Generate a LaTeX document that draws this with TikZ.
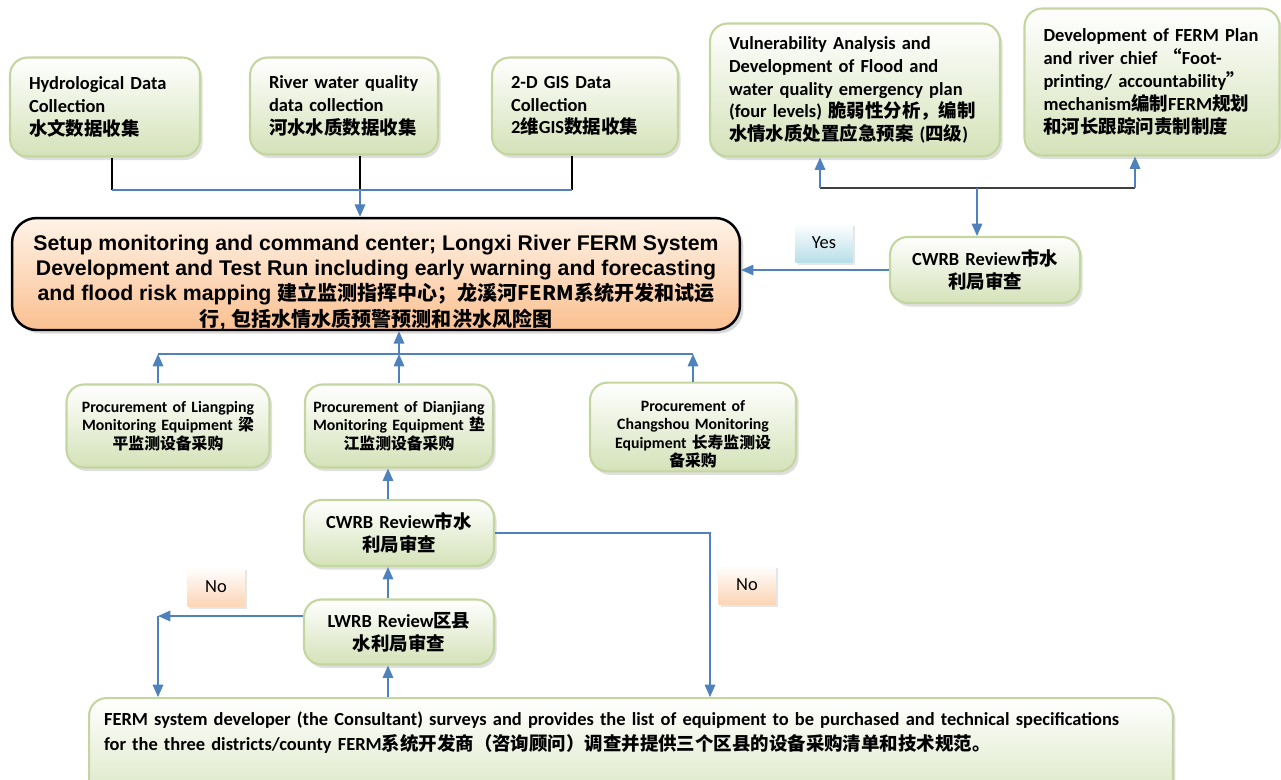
\documentclass[tikz,border=0pt]{standalone}
\usepackage{fontspec}
\setmainfont{Carlito}
\newfontfamily\cjk{Noto Sans CJK SC}
\newfontfamily\arialfont{Liberation Sans}
\usetikzlibrary{arrows.meta,shadows}
\definecolor{boxline}{RGB}{196,214,160}
\definecolor{boxfill}{RGB}{212,226,184}
\definecolor{mainfill}{RGB}{250,192,144}
\definecolor{mainlight}{RGB}{255,243,232}
\definecolor{linkblue}{RGB}{79,129,189}
\definecolor{yesfill}{RGB}{183,222,232}
\definecolor{nofill}{RGB}{252,213,181}
\newcommand{\zh}[1]{{\cjk #1}}
\newcommand{\zhmain}[1]{{\fontsize{11.4}{14.4}\selectfont\cjk #1}}
\begin{document}
\begin{tikzpicture}[x=0.02cm,y=-0.02cm,
    greenbox/.style={draw=boxline, line width=1.2pt, rounded corners=10pt,
      top color=white, bottom color=boxfill,
      drop shadow={opacity=0.25, shadow xshift=1.5pt, shadow yshift=-2pt},
      font=\bfseries\fontsize{10.5}{13}\selectfont, inner xsep=0.38cm, inner ysep=2pt},
    leftbox/.style={greenbox, align=left},
    midbox/.style={greenbox, align=center},
    procbox/.style={greenbox, align=center, inner xsep=0.15cm,
      font=\bfseries\fontsize{9}{10.4}\selectfont},
    mainbox/.style={draw=black, line width=1.4pt, rounded corners=14pt,
      top color=mainlight, bottom color=mainfill, inner ysep=0pt,
      drop shadow={opacity=0.3, shadow xshift=2pt, shadow yshift=-2pt},
      align=center, font=\arialfont\bfseries\fontsize{12.1}{14.4}\selectfont},
    tag/.style={top color=white, minimum width=1.14cm, minimum height=0.78cm,
      drop shadow={opacity=0.2, shadow xshift=1.5pt, shadow yshift=-1.5pt},
      font=\fontsize{10.5}{12}\selectfont},
    yestag/.style={tag, bottom color=yesfill},
    notag/.style={tag, bottom color=nofill},
    link/.style={draw=linkblue, line width=0.8pt, -{Triangle[width=6pt,length=7pt]}},
    bus/.style={draw=linkblue, line width=0.8pt},
    stub/.style={draw=black, line width=0.8pt}]
  \useasboundingbox (0,0) rectangle (1281,779);
  % data collection
  \node[leftbox, text width=3.04cm, minimum height=1.98cm] (hydro) at (105,107)
    {Hydrological Data\\Collection\\\zh{水文数据收集}};
  \node[leftbox, text width=3.0cm, minimum height=1.94cm] (quality) at (344,106)
    {River water quality\\data collection\\\zh{河水水质数据收集}};
  \node[leftbox, text width=2.96cm, minimum height=1.94cm] (gis) at (585,106)
    {2-D GIS Data\\Collection\\2\zh{维}GIS\zh{数据收集}};
  % plans
  \node[leftbox, text width=5.04cm, minimum height=2.66cm] (vuln) at (855,90)
    {Vulnerability Analysis and\\Development of Flood and\\water quality emergency plan\\(four levels) \zh{脆弱性分析，编制}\\\zh{水情水质处置应急预案} (\zh{四级})};
  \node[leftbox, text width=4.34cm, minimum height=2.94cm] (plan) at (1152,82)
    {Development of FERM Plan\\and river chief \zh{“}Foot-\\printing/ accountability\zh{”}\\mechanism\zh{编制}FERM\zh{规划}\\\zh{和河长跟踪问责制制度}};
  % center
  \node[mainbox, minimum width=14.56cm, minimum height=2.24cm] (main) at (376,274)
    {\rule{0pt}{18pt}Setup monitoring and command center; Longxi River FERM System\\Development and Test Run including early warning and forecasting\\and flood risk mapping \zhmain{建立监测指挥中心；龙溪河FERM系统开发和试运}\\\zhmain{行}, \zhmain{包括水情水质预警预测和洪水风险图}};
  \node[midbox, text width=3.04cm, minimum height=1.32cm] (cityrev) at (985,270)
    {CWRB Review\zh{市水}\\\zh{利局审查}};
  \node[yestag] (yes) at (824,243) {Yes};
  % procurement
  \node[procbox, text width=3.76cm, minimum height=1.66cm] (liang) at (168,426)
    {Procurement of Liangping\\Monitoring Equipment \zh{梁}\\\zh{平监测设备采购}};
  \node[procbox, text width=3.46cm, minimum height=1.66cm] (dian) at (399,426)
    {Procurement of Dianjiang\\Monitoring Equipment \zh{垫}\\\zh{江监测设备采购}};
  \node[procbox, text width=3.82cm, minimum height=1.7cm] (chang) at (693,427)
    {\rule{0pt}{14.5pt}Procurement of\\Changshou Monitoring\\Equipment \zh{长寿监测设}\\\zh{备采购}};
  % reviews
  \node[midbox, text width=3.04cm, minimum height=1.32cm] (cityrev2) at (399,533)
    {CWRB Review\zh{市水}\\\zh{利局审查}};
  \node[midbox, text width=3.04cm, minimum height=1.3cm] (countyrev) at (399,632)
    {LWRB Review\zh{区县}\\\zh{水利局审查}};
  \node[notag] (noleft) at (216,587) {No};
  \node[notag] (noright) at (747,585) {No};
  \node[leftbox, anchor=north west, text width=21.08cm, inner xsep=0.3cm, inner ysep=0.28cm,
    text depth=1.6cm, font=\bfseries\fontsize{10.5}{14.2}\selectfont] (survey) at (88,697)
    {FERM system developer (the Consultant) surveys and provides the list of equipment to be purchased and technical specifications\\for the three districts/county FERM\zh{系统开发商（咨询顾问）调查并提供三个区县的设备采购清单和技术规范。}};
  % junctions
  \coordinate (d1) at (112,190);
  \coordinate (d2) at (360,190);
  \coordinate (d3) at (572,190);
  \coordinate (r1) at (820,188);
  \coordinate (r2) at (977,188);
  \coordinate (r3) at (1135,188);
  \coordinate (p1) at (158,354);
  \coordinate (p2) at (399,354);
  \coordinate (p3) at (693,354);
  \coordinate (v) at (388,0);
  \coordinate (n1) at (158,616);
  \coordinate (n2) at (710,533);
  \begin{scope}[stub]
    \draw (d1 |- hydro.south) to (d1);
    \draw (d2 |- quality.south) to (d2);
    \draw (d3 |- gis.south) to (d3);
  \end{scope}
  \draw[bus] (d1) to (d3);
  \draw[bus] (p1) to (p3);
  \draw[draw=black!75, line width=0.8pt] (r1) to (r3);
  \begin{scope}[link]
    \draw (d2) to (d2 |- main.north);
    \draw (r1) to (r1 |- vuln.south);
    \draw (r3) to (r3 |- plan.south);
    \draw (r2) to (r2 |- cityrev.north);
    \draw (cityrev.west) to (main.east |- cityrev.west);
    \draw (p1 |- liang.north) to (p1);
    \draw (p2 |- dian.north) to (p2);
    \draw (p3 |- chang.north) to (p3);
    \draw (p2) to (p2 |- main.south);
    \draw (v |- cityrev2.north) to (v |- dian.south);
    \draw (v |- countyrev.north) to (v |- cityrev2.south);
    \draw (v |- survey.north) to (v |- countyrev.south);
    \draw (countyrev.west |- n1) to (n1);
    \draw (n1) to (n1 |- survey.north);
    \draw (cityrev2.east) -- (n2 |- cityrev2.east) -- (n2 |- survey.north);
  \end{scope}
\end{tikzpicture}
\end{document}
